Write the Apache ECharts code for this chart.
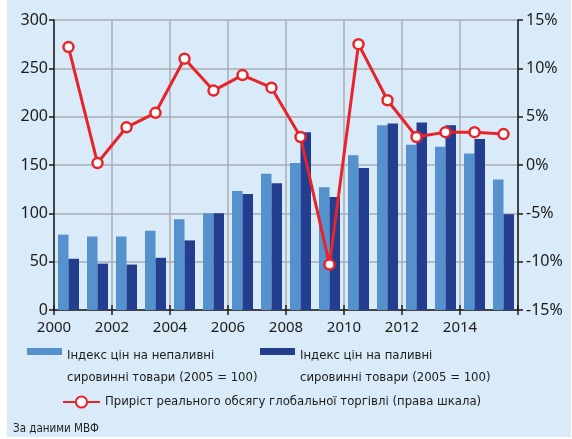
<!DOCTYPE html>
<html>
<head>
<meta charset="utf-8">
<script src="https://cdn.jsdelivr.net/npm/echarts@6/dist/echarts.min.js"></script>
<style>
  html, body { margin: 0; padding: 0; background: #fff; }
  #bg { position: absolute; left: 7px; top: 0; width: 564px; height: 437px; background: #d9eaf8; }
  #chart { position: absolute; left: 0; top: 0; width: 572px; height: 439px; }
</style>
</head>
<body>
<div id="bg"></div>
<div id="chart"></div>
<script>
// data
const years = ['2000', '2001', '2002', '2003', '2004', '2005', '2006', '2007',
               '2008', '2009', '2010', '2011', '2012', '2013', '2014', '2015'];
const nonFuel = [78, 76, 76, 82, 94, 100, 123, 141, 152, 127, 160, 191, 171, 169, 162, 135];
const fuel = [53, 48, 47, 54, 72, 100, 120, 131, 184, 117, 147, 193, 194, 191, 177, 99];
const tradeGrowth = [12.2, 0.2, 3.9, 5.4, 11.0, 7.7, 9.3, 8.0, 2.9, -10.3, 12.5, 6.7, 2.9, 3.4, 3.4, 3.2];

const nonFuelName = 'Індекс цін на непаливні\nсировинні товари (2005 = 100)';
const fuelName = 'Індекс цін на паливні\nсировинні товари (2005 = 100)';
const tradeName = 'Приріст реального обсягу глобальної торгівлі (права шкала)';

const axisFont = 'Noto Sans';
const legendFont = '"DejaVu Sans Condensed", sans-serif';
const ink = '#1d1d1b';
const gridGrey = '#a8adb3';

// bar swatch sitting at the top of a two-line legend item
const swatch = 'path://M0,6H35V13H0Z M0,44L0.01,44';

const chart = echarts.init(document.getElementById('chart'));
chart.setOption({
  animation: false,
  textStyle: {fontFamily: axisFont},
  grid: {left: 54, right: 54, top: 20, bottom: 129},
  legend: [
    {
      data: [nonFuelName], left: 27, top: 345, padding: 0,
      itemWidth: 35, itemHeight: 44, icon: swatch,
      textStyle: {fontFamily: legendFont, fontSize: 13, color: ink, lineHeight: 22}
    },
    {
      data: [fuelName], left: 260, top: 345, padding: 0,
      itemWidth: 35, itemHeight: 44, icon: swatch,
      textStyle: {fontFamily: legendFont, fontSize: 13, color: ink, lineHeight: 22}
    },
    {
      data: [tradeName], left: 62, top: 392, padding: 0,
      itemWidth: 37, itemHeight: 14,
      textStyle: {fontFamily: legendFont, fontSize: 13, color: ink, lineHeight: 20}
    }
  ],
  graphic: [
    {
      type: 'text', left: 13, top: 423,
      style: {text: 'За даними МВФ', fontFamily: legendFont, fontSize: 11.5, fill: ink}
    }
  ],
  xAxis: [
    {
      type: 'category',
      data: years,
      axisLine: {show: false, onZero: false},
      axisLabel: {show: false},
      axisTick: {show: true, inside: true, interval: 1, length: 5, lineStyle: {color: ink, width: 1.5}},
      splitLine: {show: false}
    },
    {
      type: 'value',
      position: 'bottom',
      min: 2000, max: 2016, interval: 2,
      axisLine: {show: true, onZero: false, lineStyle: {color: ink, width: 1.5}},
      axisTick: {show: true, length: 5, lineStyle: {color: ink, width: 1.5}},
      axisLabel: {
        color: ink, fontSize: 15, margin: 10,
        formatter: v => (v === 2016 ? '' : String(v))
      },
      splitLine: {show: true, lineStyle: {color: gridGrey, width: 1.5}}
    }
  ],
  yAxis: [
    {
      type: 'value',
      min: 0, max: 300, interval: 50,
      axisLine: {show: true, lineStyle: {color: ink, width: 1.5}},
      axisTick: {show: true, length: 5, lineStyle: {color: ink, width: 1.5}},
      axisLabel: {color: ink, fontSize: 16, margin: 6},
      splitLine: {show: true, lineStyle: {color: gridGrey, width: 1.5}}
    },
    {
      type: 'value',
      min: -15, max: 15, interval: 5,
      axisLine: {show: true, lineStyle: {color: ink, width: 1.5}},
      axisTick: {show: true, length: 5, lineStyle: {color: ink, width: 1.5}},
      axisLabel: {color: ink, fontSize: 16, margin: 8, formatter: '{value}%'},
      splitLine: {show: false}
    }
  ],
  series: [
    {
      name: nonFuelName,
      type: 'bar',
      data: nonFuel,
      barWidth: 10.5,
      barGap: '0%',
      itemStyle: {color: '#5591cd'}
    },
    {
      name: fuelName,
      type: 'bar',
      data: fuel,
      barWidth: 10.5,
      itemStyle: {color: '#233e8f'}
    },
    {
      name: tradeName,
      type: 'line',
      yAxisIndex: 1,
      data: tradeGrowth,
      symbol: 'circle',
      symbolSize: 10,
      z: 5,
      lineStyle: {color: '#e8242b', width: 3},
      itemStyle: {color: '#fff', borderColor: '#e8242b', borderWidth: 2.5}
    }
  ]
});
</script>
</body>
</html>
